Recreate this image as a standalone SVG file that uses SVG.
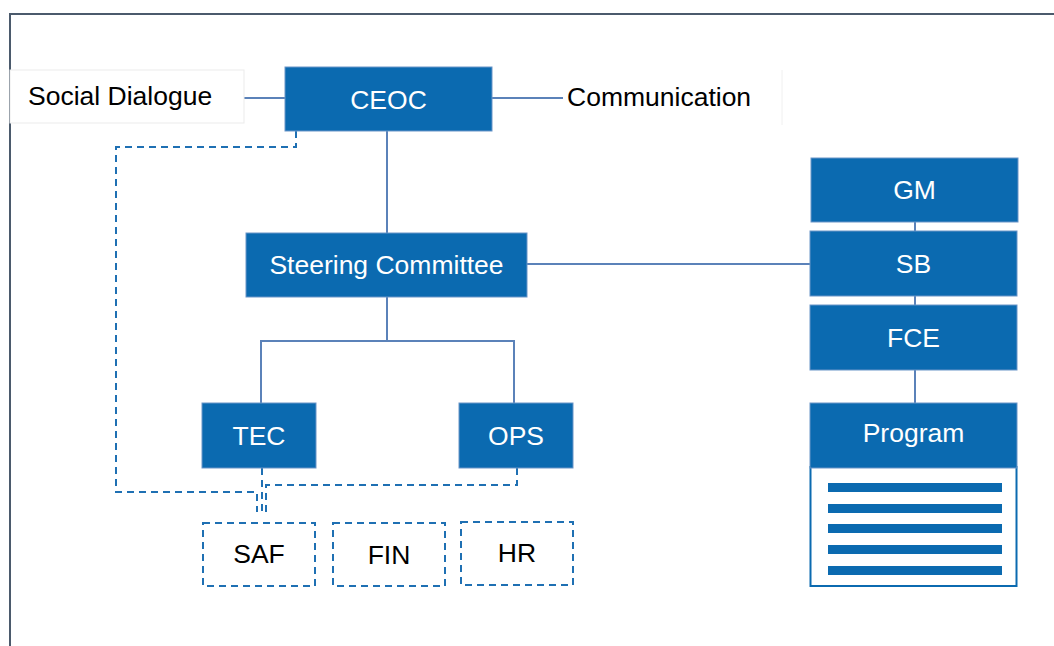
<svg xmlns="http://www.w3.org/2000/svg" width="1054" height="646" viewBox="0 0 1054 646">
<style>
  .box{fill:#0b6ab0;stroke:#6b95c8;stroke-width:1}
  .wt{font-family:"Liberation Sans",Arial,sans-serif;font-size:26.5px;fill:#ffffff;text-anchor:middle}
  .bt{font-family:"Liberation Sans",Arial,sans-serif;font-size:26.5px;fill:#000000}
  .dbox{fill:#ffffff;stroke:#1f70b3;stroke-width:2;stroke-dasharray:7 5}
  .sol{fill:none;stroke:#5b82b9;stroke-width:2}
  .dash{fill:none;stroke:#1f70b3;stroke-width:2;stroke-dasharray:7 5}
  .bar{fill:#0b6ab0}
</style>
<rect x="0" y="0" width="1054" height="646" fill="#ffffff"/>
<path d="M10 646 V14 H1054" fill="none" stroke="#4b5a6c" stroke-width="2"/>

<g id="connectors">
  <line class="sol" x1="216" y1="98" x2="285" y2="98"/>
  <line class="sol" x1="492" y1="98" x2="563" y2="98"/>
  <line class="sol" x1="387" y1="131" x2="387" y2="233"/>
  <line class="sol" x1="527" y1="264" x2="810" y2="264"/>
  <path class="sol" d="M387 297 V341 M261 403 V341 H514 V403"/>
  <line class="sol" x1="915" y1="222" x2="915" y2="231"/>
  <line class="sol" x1="915" y1="296" x2="915" y2="305"/>
  <line class="sol" x1="915" y1="370" x2="915" y2="403"/>
  <path class="dash" d="M296 131 V147 H116 V492 H257 V512"/>
  <path class="dash" d="M262 468 V512"/>
  <path class="dash" d="M517 468 V485 H266 V512"/>
</g>

<g id="social-dialogue">
  <rect x="10" y="70" width="234" height="53" fill="#ffffff" stroke="#ebebeb" stroke-width="1"/>
  <text class="bt" x="28" y="105">Social Dialogue</text>
</g>
<g id="communication">
  <line x1="782" y1="70" x2="782" y2="125" stroke="#f0f0f0" stroke-width="1"/>
  <text class="bt" x="567" y="106">Communication</text>
</g>
<g id="ceoc">
  <rect class="box" x="285" y="67" width="207" height="64"/>
  <text class="wt" x="388.5" y="109">CEOC</text>
</g>
<g id="steering-committee">
  <rect class="box" x="246" y="233" width="281" height="64"/>
  <text class="wt" x="386.5" y="274">Steering Committee</text>
</g>
<g id="tec">
  <rect class="box" x="202" y="403" width="114" height="65"/>
  <text class="wt" x="259" y="445">TEC</text>
</g>
<g id="ops">
  <rect class="box" x="459" y="403" width="114" height="65"/>
  <text class="wt" x="516" y="445">OPS</text>
</g>
<g id="saf">
  <rect class="dbox" x="203" y="523" width="112" height="63"/>
  <text class="bt" x="259" y="563" text-anchor="middle">SAF</text>
</g>
<g id="fin">
  <rect class="dbox" x="333" y="523" width="112" height="63"/>
  <text class="bt" x="389" y="564" text-anchor="middle">FIN</text>
</g>
<g id="hr">
  <rect class="dbox" x="461" y="522" width="112" height="63"/>
  <text class="bt" x="517" y="562" text-anchor="middle">HR</text>
</g>
<g id="gm">
  <rect class="box" x="811" y="158" width="207" height="64"/>
  <text class="wt" x="914.5" y="199">GM</text>
</g>
<g id="sb">
  <rect class="box" x="810" y="231" width="207" height="65"/>
  <text class="wt" x="913.5" y="273">SB</text>
</g>
<g id="fce">
  <rect class="box" x="810" y="305" width="207" height="65"/>
  <text class="wt" x="913.5" y="347">FCE</text>
</g>
<g id="program">
  <rect x="810.5" y="467" width="206" height="119" fill="#ffffff" stroke="#0b6ab0" stroke-width="2"/>
  <rect class="box" x="810" y="403" width="207" height="65"/>
  <text class="wt" x="913.5" y="442">Program</text>
  <rect class="bar" x="828" y="483" width="174" height="9"/>
  <rect class="bar" x="828" y="504" width="174" height="9"/>
  <rect class="bar" x="828" y="524" width="174" height="9"/>
  <rect class="bar" x="828" y="545" width="174" height="9"/>
  <rect class="bar" x="828" y="566" width="174" height="9"/>
</g>
</svg>
